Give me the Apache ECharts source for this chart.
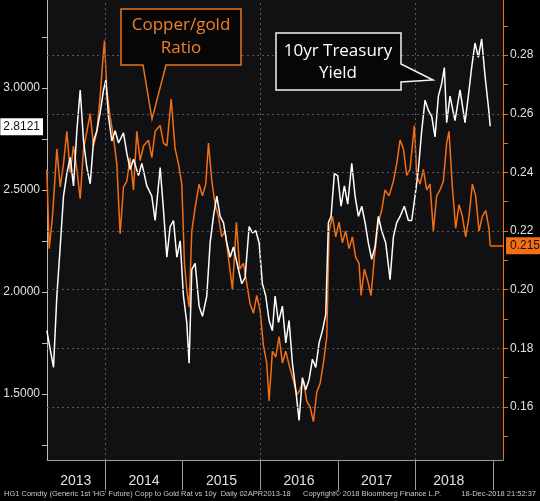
<!DOCTYPE html>
<html>
<head>
<meta charset="utf-8">
<script src="https://cdn.jsdelivr.net/npm/echarts@6/dist/echarts.min.js"></script>
<style>
  html, body { margin: 0; padding: 0; background: #000; }
  #chart { width: 540px; height: 501px; }
</style>
</head>
<body>
<div id="chart"></div>
<script>
// dates are decimal years (2014.5 = start of July 2014)

// 10yr Treasury yield (left axis, white)
var yieldYears = [
  2013.248, 2013.291, 2013.334, 2013.377, 2013.420, 2013.463, 2013.506, 2013.549, 2013.592, 2013.635,
  2013.678, 2013.721, 2013.764, 2013.807, 2013.850, 2013.893, 2013.936, 2013.979, 2014.009, 2014.043,
  2014.086, 2014.129, 2014.172, 2014.236, 2014.279, 2014.322, 2014.365, 2014.430, 2014.473, 2014.537,
  2014.601, 2014.644, 2014.709, 2014.752, 2014.795, 2014.838, 2014.881, 2014.924, 2014.967, 2015.009,
  2015.052, 2015.082, 2015.117, 2015.160, 2015.211, 2015.254, 2015.310, 2015.353, 2015.396, 2015.439,
  2015.482, 2015.525, 2015.568, 2015.611, 2015.654, 2015.718, 2015.761, 2015.804, 2015.856, 2015.899,
  2015.942, 2015.985, 2016.027, 2016.070, 2016.113, 2016.156, 2016.191, 2016.234, 2016.285, 2016.328,
  2016.371, 2016.414, 2016.457, 2016.500, 2016.543, 2016.586, 2016.629, 2016.672, 2016.715, 2016.758,
  2016.801, 2016.844, 2016.878, 2016.912, 2016.955, 2016.998, 2017.041, 2017.084, 2017.127, 2017.179,
  2017.222, 2017.265, 2017.308, 2017.351, 2017.393, 2017.436, 2017.479, 2017.522, 2017.565, 2017.617,
  2017.673, 2017.716, 2017.759, 2017.802, 2017.857, 2017.909, 2017.952, 2017.995, 2018.038, 2018.081,
  2018.124, 2018.167, 2018.210, 2018.253, 2018.296, 2018.338, 2018.373, 2018.403, 2018.446, 2018.510,
  2018.575, 2018.639, 2018.682, 2018.725, 2018.768, 2018.811, 2018.854, 2018.897, 2018.940, 2018.964
];
var yieldValues = [
  1.81, 1.72, 1.63, 1.98, 2.22, 2.47, 2.58, 2.66, 2.52, 2.79,
  2.99, 2.74, 2.61, 2.53, 2.74, 2.79, 2.88, 2.99, 3.04, 2.86,
  2.74, 2.79, 2.73, 2.78, 2.68, 2.60, 2.65, 2.57, 2.63, 2.52,
  2.47, 2.35, 2.61, 2.40, 2.17, 2.32, 2.35, 2.17, 2.25, 1.98,
  1.85, 1.65, 2.11, 2.14, 1.93, 1.88, 1.98, 2.24, 2.37, 2.47,
  2.37, 2.34, 2.24, 2.17, 2.22, 2.11, 2.04, 2.07, 2.32, 2.29,
  2.30, 2.24, 2.04, 1.98, 1.86, 1.81, 1.98, 1.85, 1.93, 1.75,
  1.86, 1.65, 1.52, 1.37, 1.58, 1.52, 1.57, 1.67, 1.63, 1.75,
  1.81, 1.89, 2.34, 2.37, 2.58, 2.57, 2.42, 2.52, 2.43, 2.63,
  2.47, 2.37, 2.42, 2.34, 2.24, 2.16, 2.22, 2.37, 2.30, 2.24,
  2.06, 2.27, 2.34, 2.37, 2.42, 2.35, 2.35, 2.47, 2.60, 2.79,
  2.94, 2.89, 2.86, 2.76, 2.96, 3.02, 3.10, 2.83, 2.96, 2.84,
  2.99, 2.83, 2.96, 3.10, 3.22, 3.15, 3.24, 3.06, 2.91, 2.8121
];

// Copper / gold ratio (right axis, orange)
var ratioYears = [
  2013.248, 2013.278, 2013.321, 2013.377, 2013.420, 2013.463, 2013.506, 2013.549, 2013.592, 2013.635,
  2013.678, 2013.721, 2013.764, 2013.807, 2013.850, 2013.893, 2013.936, 2013.966, 2013.991, 2014.021,
  2014.064, 2014.107, 2014.150, 2014.193, 2014.236, 2014.279, 2014.322, 2014.365, 2014.408, 2014.451,
  2014.494, 2014.558, 2014.601, 2014.644, 2014.709, 2014.752, 2014.795, 2014.851, 2014.902, 2014.945,
  2014.988, 2015.022, 2015.052, 2015.082, 2015.117, 2015.160, 2015.211, 2015.254, 2015.297, 2015.332,
  2015.375, 2015.418, 2015.460, 2015.503, 2015.546, 2015.598, 2015.641, 2015.692, 2015.735, 2015.783,
  2015.826, 2015.869, 2015.912, 2015.954, 2015.997, 2016.040, 2016.083, 2016.113, 2016.156, 2016.199,
  2016.242, 2016.285, 2016.328, 2016.384, 2016.427, 2016.470, 2016.513, 2016.556, 2016.599, 2016.642,
  2016.685, 2016.728, 2016.771, 2016.814, 2016.857, 2016.887, 2016.930, 2016.973, 2017.015, 2017.058,
  2017.101, 2017.144, 2017.187, 2017.230, 2017.273, 2017.299, 2017.342, 2017.385, 2017.428, 2017.471,
  2017.522, 2017.565, 2017.608, 2017.660, 2017.716, 2017.759, 2017.802, 2017.845, 2017.888, 2017.930,
  2017.986, 2018.016, 2018.059, 2018.102, 2018.145, 2018.188, 2018.231, 2018.274, 2018.317, 2018.360,
  2018.403, 2018.433, 2018.476, 2018.519, 2018.562, 2018.605, 2018.648, 2018.691, 2018.734, 2018.777,
  2018.820, 2018.863, 2018.906, 2018.948, 2018.964
];
var ratioValues = [
  0.241, 0.214, 0.225, 0.248, 0.235, 0.243, 0.254, 0.240, 0.249, 0.241,
  0.231, 0.248, 0.254, 0.260, 0.249, 0.254, 0.266, 0.277, 0.285, 0.268,
  0.259, 0.252, 0.243, 0.219, 0.235, 0.237, 0.245, 0.234, 0.254, 0.244,
  0.249, 0.251, 0.245, 0.254, 0.256, 0.250, 0.249, 0.265, 0.248, 0.243,
  0.236, 0.209, 0.200, 0.194, 0.220, 0.228, 0.236, 0.232, 0.236, 0.250,
  0.237, 0.229, 0.225, 0.218, 0.220, 0.209, 0.200, 0.223, 0.207, 0.209,
  0.202, 0.195, 0.192, 0.198, 0.193, 0.181, 0.175, 0.162, 0.179, 0.177,
  0.184, 0.175, 0.179, 0.173, 0.169, 0.164, 0.166, 0.169, 0.162, 0.160,
  0.155, 0.165, 0.168, 0.175, 0.184, 0.220, 0.225, 0.218, 0.223, 0.216,
  0.220, 0.214, 0.218, 0.211, 0.209, 0.198, 0.207, 0.203, 0.198, 0.211,
  0.223, 0.227, 0.234, 0.232, 0.237, 0.243, 0.251, 0.248, 0.239, 0.241,
  0.256, 0.239, 0.236, 0.241, 0.234, 0.236, 0.220, 0.232, 0.234, 0.237,
  0.250, 0.254, 0.235, 0.221, 0.229, 0.225, 0.218, 0.225, 0.236, 0.232,
  0.220, 0.225, 0.227, 0.221, 0.215
];

// axis ticks and labels
var yearTicks = [2014, 2015, 2016, 2017, 2018, 2019];
var yearLabelPos = [2013.62, 2014.5, 2015.5, 2016.5, 2017.5, 2018.43];
var vGridYears = [2014, 2016, 2018];
var leftTicks = [1.25, 1.5, 1.75, 2.0, 2.25, 2.5, 2.75, 3.0, 3.25];
var leftLabels = [1.5, 2.0, 2.5, 3.0];
var rightTicks = [0.15, 0.16, 0.17, 0.18, 0.19, 0.20, 0.21, 0.22, 0.23, 0.24, 0.25, 0.26, 0.27, 0.28, 0.29];
var rightLabels = [0.16, 0.18, 0.20, 0.22, 0.24, 0.26, 0.28];
var lastYield = 2.8121;
var lastRatio = 0.215;

var X_MIN = 2013.25, X_MAX = 2019.129;
var ORANGE = '#f36f13';
var narrow = '"Liberation Sans Narrow", "Liberation Sans", sans-serif';

var myChart = echarts.init(document.getElementById('chart'));

var gridLines = rightLabels.map(function (v) { return { yAxis: v }; })
  .concat(vGridYears.map(function (y) { return { xAxis: y }; }));

var option = {
  backgroundColor: '#000',
  animation: false,
  grid: {
    left: 47, right: 37, top: 0, bottom: 41,
    show: true, backgroundColor: '#111114', borderWidth: 0
  },
  xAxis: {
    type: 'value',
    min: X_MIN,
    max: X_MAX,
    axisLine: { lineStyle: { color: '#9a9a9a', width: 1 } },
    axisTick: {
      customValues: yearTicks,
      length: 30,
      lineStyle: { color: '#9a9a9a' }
    },
    axisLabel: {
      customValues: yearLabelPos,
      formatter: function (v) { return String(Math.floor(v)); },
      color: '#e0e0e0',
      fontSize: 14,
      fontFamily: narrow,
      margin: 14
    },
    splitLine: { show: false }
  },
  yAxis: [
    {
      type: 'value',
      position: 'left',
      min: 1.176,
      max: 3.431,
      axisLine: { show: true, lineStyle: { color: '#bdbdbd' } },
      axisTick: { show: true, customValues: leftTicks, length: 5, lineStyle: { color: '#bdbdbd' } },
      axisLabel: {
        customValues: leftLabels,
        formatter: function (v) { return v.toFixed(4); },
        color: '#e0e0e0',
        fontSize: 12,
        fontFamily: narrow,
        margin: 7
      },
      splitLine: { show: false }
    },
    {
      type: 'value',
      position: 'right',
      min: 0.1419,
      max: 0.2988,
      axisLine: { show: true, lineStyle: { color: ORANGE } },
      axisTick: { show: true, customValues: rightTicks, length: 5, lineStyle: { color: ORANGE } },
      axisLabel: {
        customValues: rightLabels,
        formatter: function (v) { return v.toFixed(2); },
        color: '#e0e0e0',
        fontSize: 12,
        fontFamily: narrow,
        margin: 7
      },
      splitLine: { show: false }
    }
  ],
  series: [
    {
      name: 'grid',
      type: 'line',
      yAxisIndex: 1,
      data: [],
      z: 1,
      silent: true,
      markLine: {
        silent: true,
        symbol: ['none', 'none'],
        label: { show: false },
        lineStyle: { color: '#5a5a5a', type: [2, 3], width: 1 },
        data: gridLines
      }
    },
    {
      name: 'Copper/gold Ratio',
      type: 'line',
      yAxisIndex: 1,
      z: 3,
      showSymbol: false,
      lineStyle: { color: ORANGE, width: 1.5 },
      data: ratioYears.map(function (t, i) { return [t, ratioValues[i]]; }),
      markLine: {
        silent: true,
        symbol: ['none', 'none'],
        lineStyle: { color: ORANGE, type: 'solid', width: 1.5 },
        label: {
          show: true,
          position: 'end',
          distance: 3,
          formatter: String(lastRatio),
          backgroundColor: ORANGE,
          color: '#111',
          fontSize: 12,
          fontFamily: narrow,
          padding: [3, 4, 2, 4]
        },
        data: [[
          { coord: [ratioYears[ratioYears.length - 1], lastRatio] },
          { coord: [X_MAX, lastRatio] }
        ]]
      }
    },
    {
      name: '10yr Treasury Yield',
      type: 'line',
      yAxisIndex: 0,
      z: 4,
      showSymbol: false,
      lineStyle: { color: '#ffffff', width: 1.5 },
      data: yieldYears.map(function (t, i) { return [t, yieldValues[i]]; }),
      markLine: {
        silent: true,
        symbol: ['none', 'none'],
        lineStyle: { width: 0, color: 'rgba(0,0,0,0)' },
        label: {
          show: true,
          position: 'start',
          distance: 4,
          formatter: String(lastYield),
          backgroundColor: '#ffffff',
          color: '#111',
          fontSize: 12,
          fontFamily: narrow,
          padding: [3, 3, 2, 3]
        },
        data: [{ yAxis: lastYield }]
      }
    }
  ],
  graphic: [
    {
      type: 'polygon',
      shape: { points: [[121, 9], [241, 9], [241, 65], [166, 65], [152, 119], [143, 65], [121, 65]] },
      style: { fill: '#060606', stroke: '#e8761e', lineWidth: 1.5 },
      z: 10
    },
    {
      type: 'text',
      x: 181, y: 37,
      style: {
        text: 'Copper/gold\nRatio',
        fill: '#f0802a',
        font: '17px "Open Sans", sans-serif',
        lineHeight: 23,
        align: 'center',
        verticalAlign: 'middle'
      },
      z: 11
    },
    {
      type: 'polygon',
      shape: { points: [[276, 33], [401, 33], [401, 64], [433, 80], [401, 82], [401, 90], [276, 90]] },
      style: { fill: '#060606', stroke: '#f2f2f2', lineWidth: 1.5 },
      z: 10
    },
    {
      type: 'text',
      x: 338, y: 62,
      style: {
        text: '10yr Treasury\nYield',
        fill: '#ffffff',
        font: '17px "Open Sans", sans-serif',
        lineHeight: 22,
        align: 'center',
        verticalAlign: 'middle'
      },
      z: 11
    },
    {
      type: 'text', x: 4, y: 494,
      style: { text: "HG1 Comdty (Generic 1st 'HG' Future) Copp to Gold Rat vs 10y  Daily 02APR2013-18", fill: '#c8c8c8', font: '7.5px "Liberation Sans", sans-serif', verticalAlign: 'middle' }
    },
    {
      type: 'text', x: 303, y: 494,
      style: { text: 'Copyright\u00a9 2018 Bloomberg Finance L.P.', fill: '#c8c8c8', font: '7.5px "Liberation Sans", sans-serif', verticalAlign: 'middle' }
    },
    {
      type: 'text', x: 536, y: 494,
      style: { text: '18-Dec-2018 21:52:37', fill: '#c8c8c8', font: '7.5px "Liberation Sans", sans-serif', align: 'right', verticalAlign: 'middle' }
    }
  ]
};

myChart.setOption(option);
</script>
</body>
</html>
